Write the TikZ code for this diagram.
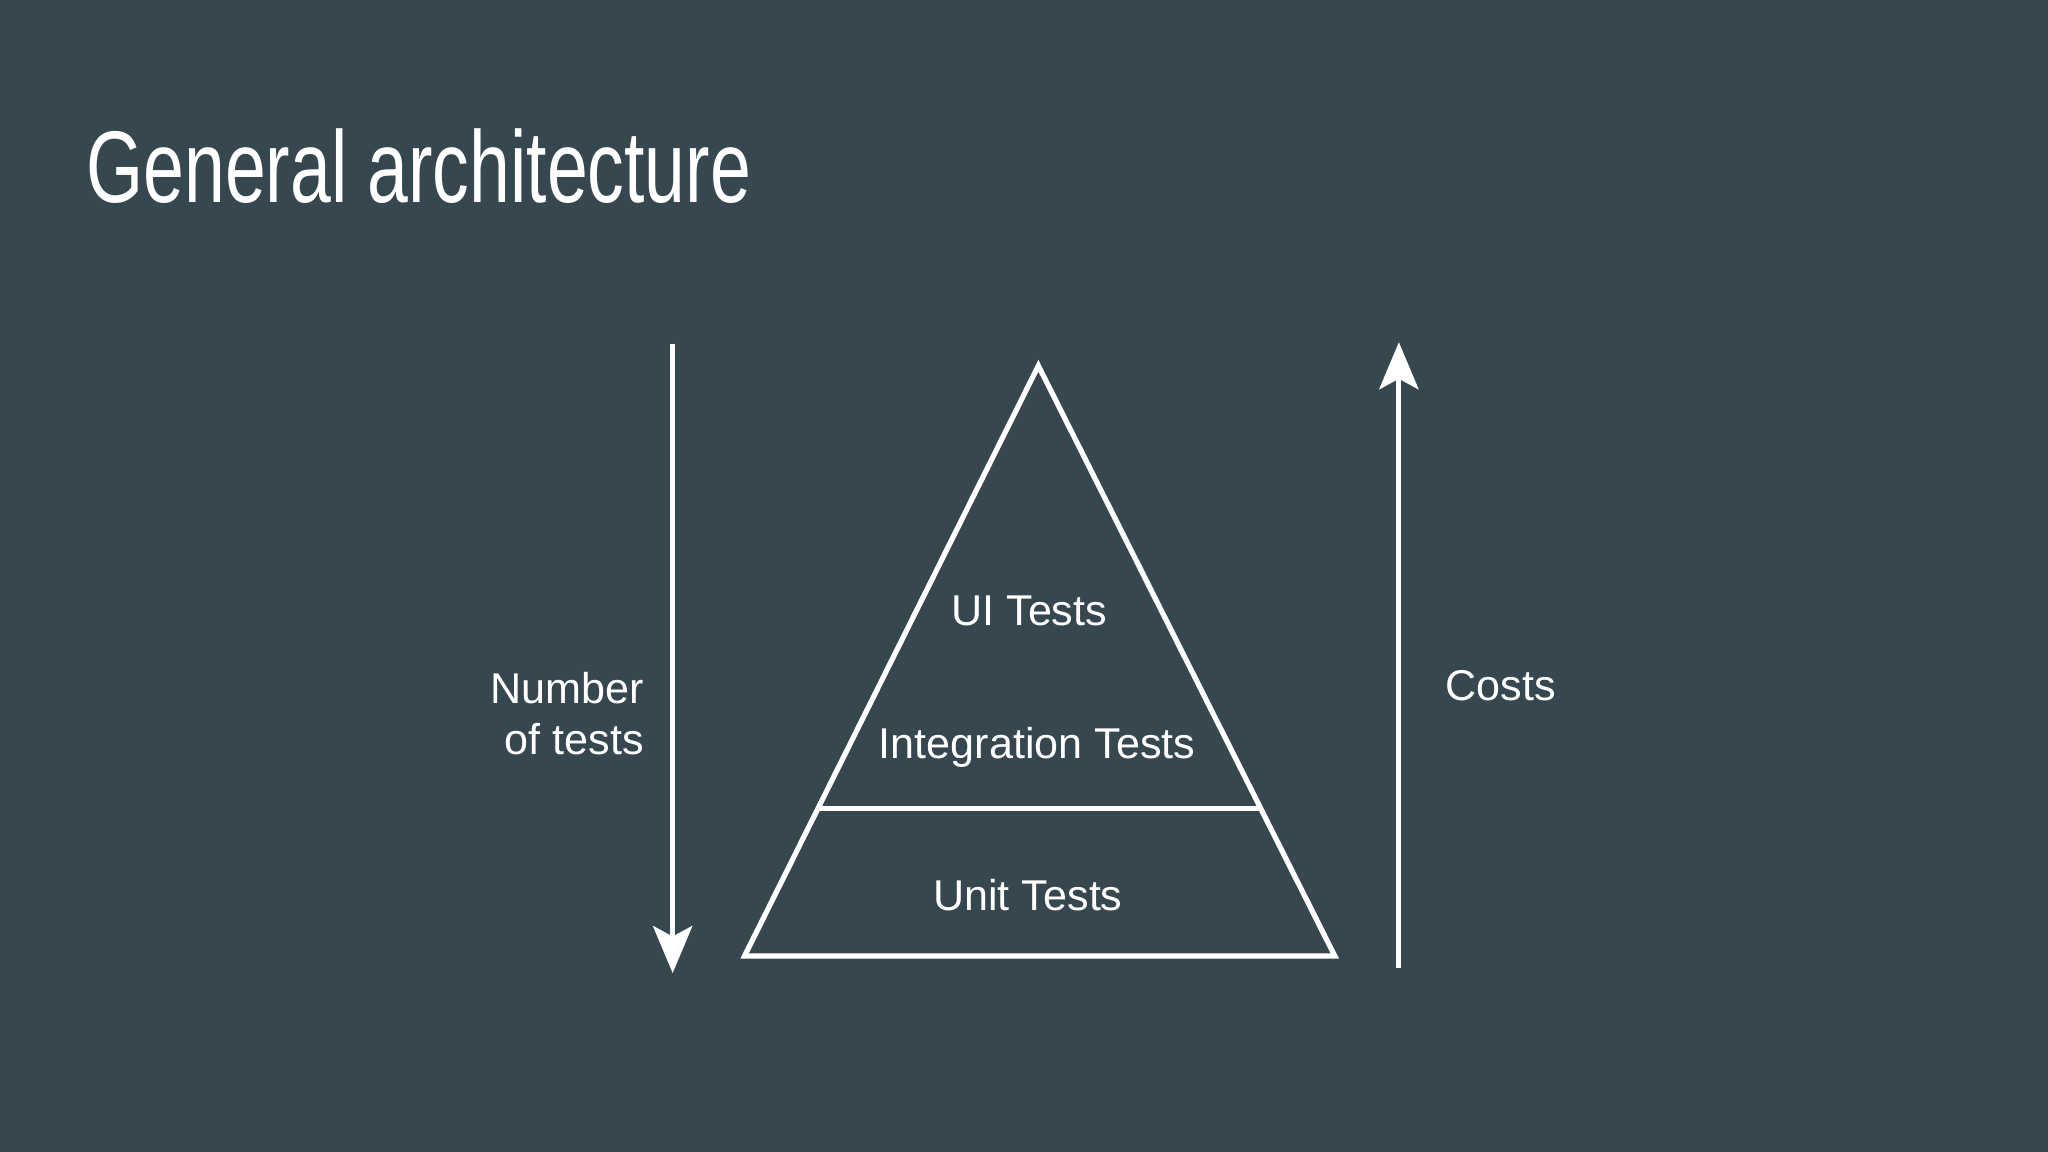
\documentclass[tikz,border=0pt]{standalone}
\usepackage{fontspec}
\setmainfont{Liberation Sans}
\newfontfamily\titlefont[FakeStretch=0.72]{Liberation Sans}
\usetikzlibrary{arrows.meta}
\definecolor{bg}{HTML}{37474F}
\tikzset{
  lbl/.style={text=white,font=\fontsize{33}{40}\selectfont,inner sep=0pt},
  ln/.style={draw=white,line width=4pt},
  arr/.style={ln,-{Stealth[length=36pt,width=30pt,inset=8pt]}}
}
\begin{document}
\begin{tikzpicture}[x=1pt,y=-1pt]
\fill[bg] (0,0) rectangle (1568,882);
\useasboundingbox (0,0) rectangle (1568,882);
\node[anchor=base west,text=white,inner sep=0pt,font=\titlefont\fontsize{78}{90}\selectfont] (title) at (66,155) {General architecture};
\coordinate (apex) at (795,280);
\coordinate (bl) at (570,732);
\coordinate (br) at (1022,732);
\coordinate (dl) at (627,619);
\coordinate (dr) at (965,619);
\draw[ln,line join=miter] (apex) -- (br) -- (bl) -- cycle;
\draw[ln] (dl) -- (dr);
\coordinate (la) at (515,263);
\coordinate (lb) at (515,745);
\draw[arr] (la) -- (lb);
\coordinate (ra) at (1071,741);
\coordinate (rb) at (1071,262);
\draw[arr] (ra) -- (rb);
\node[lbl] (ui) at (788,468) {UI Tests};
\node[lbl] (integ) at (794,572) {Integration Tests};
\node[lbl] (unit) at (787,685) {Unit Tests};
\node[lbl,anchor=east,align=right] (num) at (493,546) {Number\\[-1pt]of tests};
\node[lbl] (costs) at (1149,525) {Costs};
\end{tikzpicture}
\end{document}
